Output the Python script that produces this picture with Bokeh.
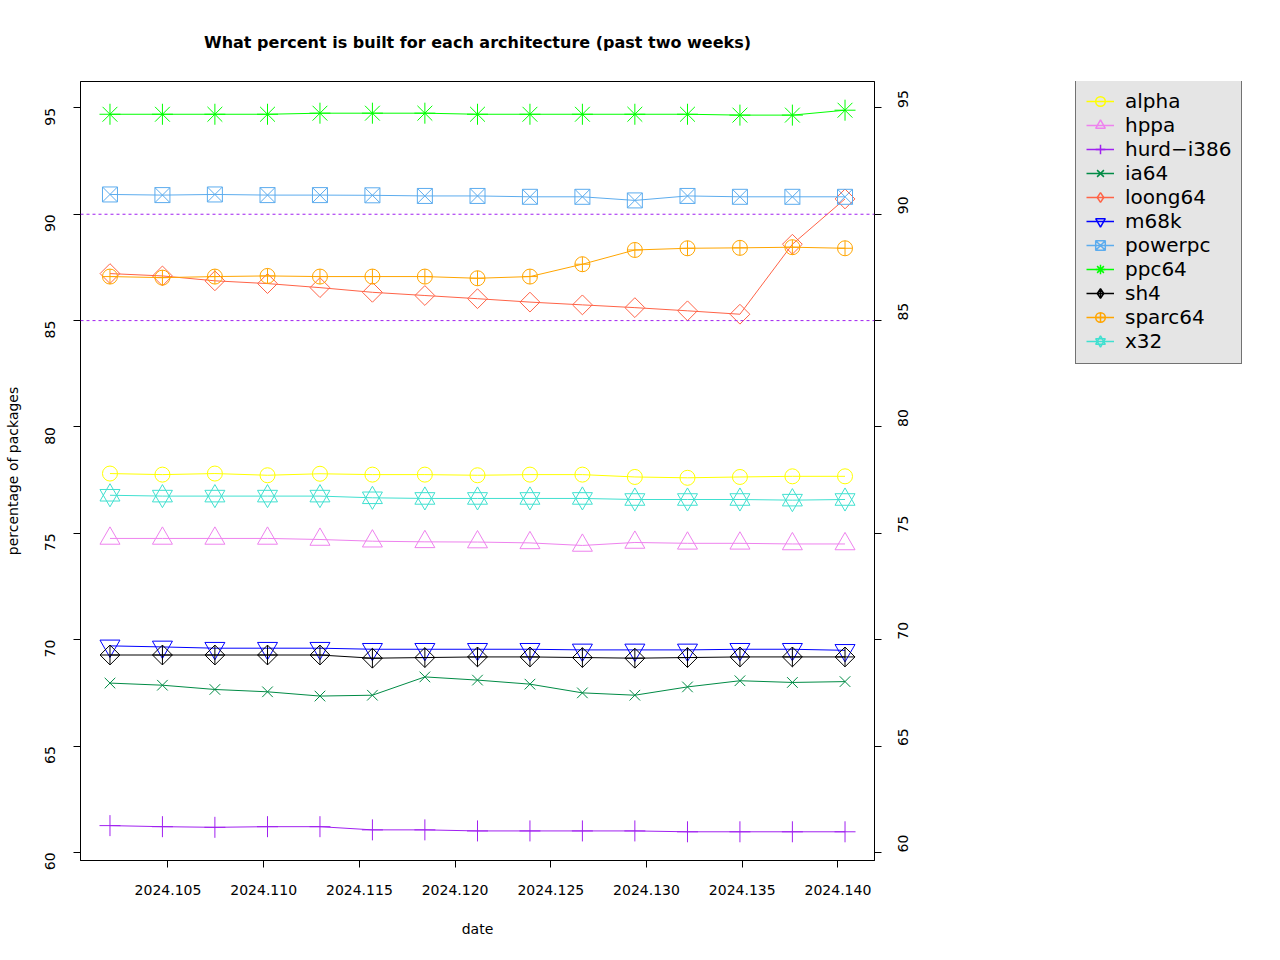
from bokeh.plotting import figure
from bokeh.layouts import row
from bokeh.models import (Range1d, LinearAxis, FixedTicker, Span, Legend, LegendItem,
                          PrintfTickFormatter)
from bokeh.embed import file_html
from bokeh.resources import INLINE
import math

# ---- data ----
dates = [2024.10197, 2024.10471, 2024.10745, 2024.11020, 2024.11294, 2024.11568, 2024.11842,
         2024.12117, 2024.12391, 2024.12665, 2024.12939, 2024.13214, 2024.13488, 2024.13762,
         2024.14037]

alpha = [77.81, 77.76, 77.81, 77.73, 77.80, 77.76, 77.76, 77.73, 77.76, 77.76, 77.65, 77.61, 77.65, 77.68, 77.68]
hppa = [74.76, 74.76, 74.76, 74.76, 74.71, 74.63, 74.60, 74.59, 74.55, 74.43, 74.57, 74.53, 74.53, 74.50, 74.50]
hurd_i386 = [61.26, 61.21, 61.18, 61.21, 61.21, 61.06, 61.06, 61.01, 61.01, 61.01, 61.01, 60.97, 60.97, 60.97, 60.97]
ia64 = [67.96, 67.86, 67.66, 67.55, 67.35, 67.39, 68.25, 68.10, 67.91, 67.50, 67.39, 67.78, 68.07, 67.99, 68.03]
loong64 = [87.21, 87.10, 86.87, 86.74, 86.55, 86.33, 86.18, 86.03, 85.87, 85.74, 85.61, 85.46, 85.30, 88.59, 90.72]
m68k = [69.71, 69.66, 69.60, 69.60, 69.60, 69.55, 69.55, 69.55, 69.55, 69.52, 69.52, 69.52, 69.55, 69.55, 69.50]
powerpc = [90.93, 90.90, 90.93, 90.90, 90.90, 90.89, 90.86, 90.86, 90.82, 90.82, 90.65, 90.86, 90.82, 90.82, 90.82]
ppc64 = [94.70, 94.70, 94.70, 94.70, 94.75, 94.75, 94.75, 94.70, 94.70, 94.70, 94.70, 94.70, 94.66, 94.66, 94.89]
sh4 = [69.28, 69.28, 69.28, 69.28, 69.28, 69.13, 69.16, 69.19, 69.19, 69.16, 69.13, 69.16, 69.19, 69.19, 69.19]
sparc64 = [87.07, 87.02, 87.07, 87.10, 87.07, 87.07, 87.07, 86.99, 87.07, 87.65, 88.32, 88.40, 88.42, 88.45, 88.40]
x32 = [76.79, 76.75, 76.75, 76.75, 76.75, 76.67, 76.64, 76.64, 76.64, 76.64, 76.59, 76.59, 76.59, 76.56, 76.59]

names = ["alpha", "hppa", "hurd\u2212i386", "ia64", "loong64", "m68k", "powerpc", "ppc64", "sh4", "sparc64", "x32"]
x_ticks = [2024.105, 2024.110, 2024.115, 2024.120, 2024.125, 2024.130, 2024.135, 2024.140]
y_ticks = [60, 65, 70, 75, 80, 85, 90, 95]
ref_lines = [85, 90]

FONT = "DejaVu Sans"
D45 = math.pi / 4

# (name, values, colour, plot markers (marker, size, angle), legend markers)
series = [
    (names[0], alpha, "#FFFF00", [("circle", 15, 0)], ["circle"]),
    (names[1], hppa, "#EE82EE", [("triangle", 20, 0)], ["triangle"]),
    (names[2], hurd_i386, "#A020F0", [("cross", 21, 0)], ["cross"]),
    (names[3], ia64, "#008B45", [("x", 15, 0)], ["x"]),
    (names[4], loong64, "#FF6347", [("square", 14, D45)], ["diamond"]),
    (names[5], m68k, "#0000FF", [("inverted_triangle", 20, 0)], ["inverted_triangle"]),
    (names[6], powerpc, "#5CACEE", [("square_x", 15, 0)], ["square_x"]),
    (names[7], ppc64, "#00FF00", [("asterisk", 21, 0)], ["asterisk"]),
    (names[8], sh4, "#000000", [("square_x", 14, D45)], ["diamond_cross"]),
    (names[9], sparc64, "#FFA500", [("circle_cross", 15, 0)], ["circle_cross"]),
    (names[10], x32, "#40E0D0", [("triangle", 20, 0), ("inverted_triangle", 20, 0)],
     ["triangle", "inverted_triangle"]),
]

W1, W2, H = 1060, 210, 950
p = figure(width=W1, height=H, output_backend="svg", toolbar_location=None,
           x_range=Range1d(2024.10043, 2024.14191), y_range=Range1d(59.62, 96.24),
           min_border_left=80, min_border_top=80,
           min_border_right=W1 - 874, min_border_bottom=H - 860,
           background_fill_color="white", border_fill_color="white")

p.title.text = "What percent is built for each architecture (past two weeks)"
p.title.align = "center"
p.title.text_font = FONT
p.title.text_font_size = "16px"
p.title.text_font_style = "bold"
p.title.text_color = "black"
p.title.standoff = 60

p.outline_line_color = "black"
p.outline_line_width = 1
p.xgrid.visible = False
p.ygrid.visible = False


def style_axis(ax, vertical=False):
    ax.axis_line_color = "black"
    ax.major_tick_line_color = "black"
    ax.minor_tick_line_color = None
    ax.major_tick_in = 0
    ax.major_tick_out = 7
    ax.major_label_text_font = FONT
    ax.major_label_text_font_size = "14px"
    ax.major_label_text_color = "black"
    ax.axis_label_text_font = FONT
    ax.axis_label_text_font_size = "14px"
    ax.axis_label_text_font_style = "normal"
    ax.axis_label_text_color = "black"
    if vertical:
        ax.major_label_orientation = math.pi / 2


xa = p.xaxis[0]
style_axis(xa)
xa.ticker = FixedTicker(ticks=x_ticks)
xa.formatter = PrintfTickFormatter(format="%.3f")
xa.axis_label = "date"
xa.major_label_standoff = 17
xa.axis_label_standoff = 23

ya = p.yaxis[0]
style_axis(ya, vertical=True)
ya.ticker = FixedTicker(ticks=y_ticks)
ya.axis_label = "percentage of packages"
ya.major_label_standoff = 23
ya.axis_label_standoff = 17

yr = LinearAxis()
style_axis(yr, vertical=True)
yr.ticker = FixedTicker(ticks=y_ticks)
yr.major_label_standoff = 22
p.add_layout(yr, "right")

for v in ref_lines:
    p.add_layout(Span(location=v, dimension="width", line_color="#A020F0",
                      line_dash="3 3", line_width=1))

for name, vals, color, marks, keys in series:
    p.line(dates, vals, line_color=color, line_width=1)
    for m, s, a in marks:
        p.scatter(dates, vals, marker=m, size=s, angle=a,
                  line_color=color, fill_color=None, line_width=1)

# ---- legend panel (a second figure whose data lie outside its view) ----
q = figure(width=W2, height=H, output_backend="svg", toolbar_location=None,
           x_range=Range1d(0, 1), y_range=Range1d(0, 1),
           x_axis_location=None, y_axis_location=None,
           min_border_left=0, min_border_right=0, min_border_top=0, min_border_bottom=0,
           background_fill_color="white", border_fill_color="white")
q.outline_line_color = None
q.xgrid.visible = False
q.ygrid.visible = False

items = []
for name, vals, color, marks, keys in series:
    rs = [q.line(dates, vals, line_color=color, line_width=1.5)]
    for k in keys:
        rs.append(q.scatter(dates, vals, marker=k, size=12, line_color=color,
                            fill_color=None, line_width=1.5))
    items.append(LegendItem(label=name, renderers=rs))

# the row aligns this frame with the main frame (80..860), legend top at y = 80
legend = Legend(items=items, location=(15, 860 - 364), padding=10, spacing=0,
                label_height=24, glyph_height=24, glyph_width=28, label_standoff=11,
                label_text_font=FONT, label_text_font_size="20px",
                label_text_color="black",
                background_fill_color="#E5E5E5", background_fill_alpha=1.0,
                border_line_color="black", border_line_width=1, margin=0)
q.add_layout(legend, "center")

layout = row(p, q, spacing=0)
open("out.html", "w").write(file_html(layout, INLINE))
